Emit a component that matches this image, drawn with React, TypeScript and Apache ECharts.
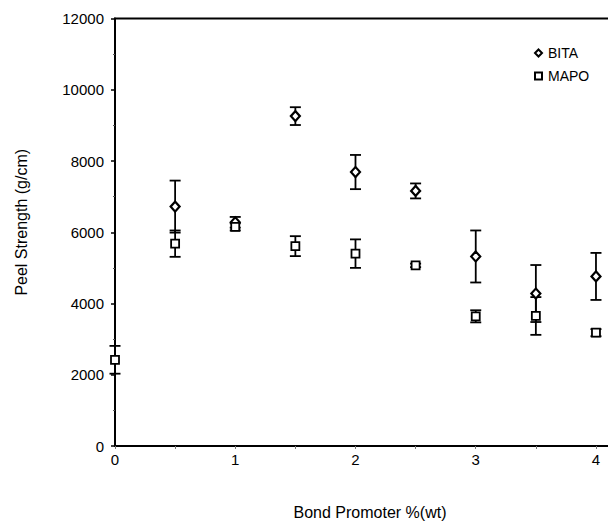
import React, { useEffect, useRef } from "react";
import * as echarts from "echarts";

const xValues = [0, 0.5, 1, 1.5, 2, 2.5, 3, 3.5, 4];
const bitaX = [0.5, 1, 1.5, 2, 2.5, 3, 3.5, 4];
const bitaMean = [6720, 6280, 9260, 7690, 7160, 5320, 4280, 4760];
const bitaErr = [730, 150, 250, 480, 210, 730, 800, 660];
const mapoMean = [2420, 5680, 6150, 5610, 5400, 5070, 3640, 3650, 3180];
const mapoErr = [390, 370, 100, 280, 400, 50, 170, 530, 100];
const yTicks = [0, 2000, 4000, 6000, 8000, 10000, 12000];

const FONT = "'Liberation Sans', Arial, sans-serif";

function errData(xs: number[], means: number[], errs: number[]) {
  return xs.map((x, i) => [x, means[i] - errs[i], means[i] + errs[i]]);
}

function renderErr(params: any, api: any) {
  const x = api.value(0);
  const lo = api.coord([x, api.value(1)]);
  const hi = api.coord([x, api.value(2)]);
  const hw = 5.5;
  const style = { stroke: "#000", lineWidth: 1.8, fill: "none" };
  return {
    type: "group",
    children: [
      { type: "line", shape: { x1: lo[0], y1: lo[1], x2: hi[0], y2: hi[1] }, style },
      { type: "line", shape: { x1: hi[0] - hw, y1: hi[1], x2: hi[0] + hw, y2: hi[1] }, style },
      { type: "line", shape: { x1: lo[0] - hw, y1: lo[1], x2: lo[0] + hw, y2: lo[1] }, style },
    ],
  };
}

export default function App() {
  const ref = useRef<HTMLDivElement>(null);
  useEffect(() => {
    if (!ref.current) return;
    const chart = echarts.init(ref.current, null, { renderer: "svg" });
    const yMax = yTicks[yTicks.length - 1];
    chart.setOption({
      animation: false,
      backgroundColor: "#fff",
      textStyle: { fontFamily: FONT },
      grid: { left: 115, top: 18.5, right: 0, bottom: 73, containLabel: false },
      legend: {
        left: 529,
        top: 41,
        orient: "vertical",
        itemGap: 9,
        itemWidth: 7,
        itemHeight: 7,
        textStyle: { fontFamily: FONT, fontSize: 14, color: "#000", padding: [0, 0, 0, 1] },
        data: [
          { name: "BITA", icon: "diamond" },
          { name: "MAPO", icon: "rect" },
        ],
      },
      xAxis: {
        type: "value",
        min: 0,
        max: 4.1,
        interval: 0.5,
        name: "Bond Promoter %(wt)",
        nameLocation: "middle",
        nameGap: 58,
        nameTextStyle: { fontFamily: FONT, fontSize: 16, color: "#000", padding: [0, 0, 0, 17] },
        axisLine: { lineStyle: { color: "#000", width: 2 } },
        axisTick: { show: true, length: 3, lineStyle: { color: "#777", width: 1 } },
        axisLabel: {
          fontFamily: FONT,
          fontSize: 15,
          color: "#000",
          margin: 6,
          showMaxLabel: false,
          formatter: (v: number) => (Math.abs(v - Math.round(v)) < 1e-6 ? String(Math.round(v)) : ""),
        },
        splitLine: { show: false },
      },
      yAxis: {
        type: "value",
        min: 0,
        max: yMax,
        interval: 2000,
        name: "Peel Strength (g/cm)",
        nameLocation: "middle",
        nameGap: 86,
        nameTextStyle: { fontFamily: FONT, fontSize: 16, color: "#000", padding: [0, 0, 0, 20] },
        axisLine: { lineStyle: { color: "#000", width: 2 } },
        axisTick: { show: true, length: 4, lineStyle: { color: "#000", width: 1.5 } },
        minorTick: { show: true, splitNumber: 2, length: 2, lineStyle: { color: "#555", width: 1 } },
        axisLabel: {
          fontFamily: FONT,
          fontSize: 15,
          color: "#000",
          margin: 11,
          formatter: (v: number) => String(v),
        },
        splitLine: { show: false },
      },
      graphic: [
        {
          type: "line",
          shape: { x1: 114, y1: 18.5, x2: 608, y2: 18.5 },
          style: { stroke: "#000", lineWidth: 2 },
          silent: true,
        },
      ],
      series: [
        {
          name: "BITA err",
          type: "custom",
          renderItem: renderErr,
          data: errData(bitaX, bitaMean, bitaErr),
          z: 1,
          silent: true,
        },
        {
          name: "MAPO err",
          type: "custom",
          renderItem: renderErr,
          data: errData(xValues, mapoMean, mapoErr),
          z: 1,
          silent: true,
        },
        {
          name: "BITA",
          type: "scatter",
          symbol: "diamond",
          symbolSize: [9, 10],
          itemStyle: { color: "#fff", borderColor: "#000", borderWidth: 2.2, opacity: 1 },
          data: bitaX.map((x, i) => [x, bitaMean[i]]),
          z: 3,
        },
        {
          name: "MAPO",
          type: "scatter",
          symbol: "rect",
          symbolSize: 8,
          itemStyle: { color: "#fff", borderColor: "#000", borderWidth: 1.8, opacity: 1 },
          data: xValues.map((x, i) => [x, mapoMean[i]]),
          z: 3,
        },
      ],
    });
    return () => chart.dispose();
  }, []);
  return (
    <div
      ref={ref}
      style={{ position: "absolute", left: 0, top: 0, width: 608, height: 525, background: "#fff" }}
    />
  );
}
